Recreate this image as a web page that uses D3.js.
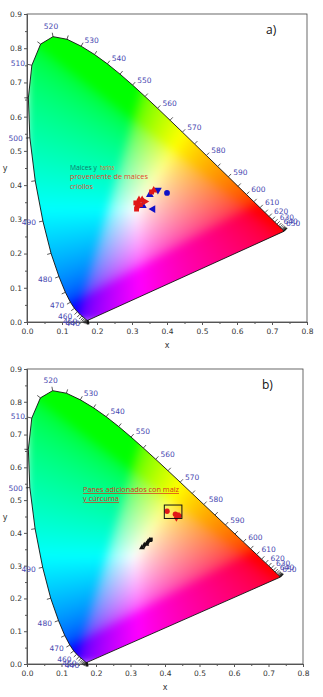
<!DOCTYPE html>
<html>
<head>
<meta charset="utf-8">
<script src="https://cdn.jsdelivr.net/npm/d3@7"></script>
<style>
  body{ margin:0; background:#fff; }
  svg{ display:block; }
  text{ font-family:"DejaVu Sans", Verdana, sans-serif; }
</style>
</head>
<body>
<div id="chart"></div>
<script>
// CIE 1931 2 deg spectral locus, 5 nm steps.
const locus_nm = [380,385,390,395,400,405,410,415,420,425,430,435,440,445,450,455,460,465,470,475,480,485,490,495,500,505,510,515,520,525,530,535,540,545,550,555,560,565,570,575,580,585,590,595,600,605,610,615,620,625,630,635,640,645,650,655,660,665,670,675,680,685,690,695,700];
const locus_x = [0.1741,0.1740,0.1738,0.1736,0.1733,0.1730,0.1726,0.1721,0.1714,0.1703,0.1689,0.1669,0.1644,0.1611,0.1566,0.1510,0.1440,0.1355,0.1241,0.1096,0.0913,0.0687,0.0454,0.0235,0.0082,0.0039,0.0139,0.0389,0.0743,0.1142,0.1547,0.1929,0.2296,0.2658,0.3016,0.3373,0.3731,0.4087,0.4441,0.4788,0.5125,0.5448,0.5752,0.6029,0.6270,0.6482,0.6658,0.6801,0.6915,0.7006,0.7079,0.7140,0.7190,0.7230,0.7260,0.7283,0.7300,0.7311,0.7320,0.7327,0.7334,0.7340,0.7344,0.7346,0.7347];
const locus_y = [0.0050,0.0050,0.0049,0.0049,0.0048,0.0048,0.0048,0.0048,0.0051,0.0058,0.0069,0.0086,0.0109,0.0138,0.0177,0.0227,0.0297,0.0399,0.0578,0.0868,0.1327,0.2007,0.2950,0.4127,0.5384,0.6548,0.7502,0.8120,0.8338,0.8262,0.8059,0.7816,0.7543,0.7243,0.6923,0.6589,0.6245,0.5896,0.5547,0.5202,0.4866,0.4544,0.4242,0.3965,0.3725,0.3514,0.3340,0.3197,0.3083,0.2993,0.2920,0.2859,0.2809,0.2770,0.2740,0.2717,0.2700,0.2689,0.2680,0.2673,0.2666,0.2660,0.2656,0.2654,0.2653];
// Wavelengths that get a text label.
const label_nm = [440,450,460,470,480,490,500,510,520,530,540,550,560,570,580,590,600,610,620,630,640,650];

// Axis ticks.
const x_ticks = [0,0.1,0.2,0.3,0.4,0.5,0.6,0.7,0.8];
const x_tick_labels = ['0.0','0.1','0.2','0.3','0.4','0.5','0.6','0.7','0.8'];
const y_ticks = [0,0.1,0.2,0.3,0.4,0.5,0.6,0.7,0.8,0.9];
const y_tick_labels = ['0.0','0.1','0.2','0.3','0.4','0.5','0.6','0.7','0.8','0.9'];

// Panel a) samples: maices (blue) and harina (red).
const a_maices_x = [0.400,0.374,0.351,0.360,0.331];
const a_maices_y = [0.377,0.386,0.372,0.330,0.340];
const a_maices_shape = ['circle','tri_down','tri_up','tri_left','tri_up'];
const a_harina_x = [0.356,0.362,0.311,0.316,0.320,0.329,0.337,0.313,0.324];
const a_harina_y = [0.380,0.385,0.348,0.338,0.356,0.357,0.352,0.330,0.343];
const a_harina_shape = ['square','tri_up','square','circle','diamond','tri_up','tri_right','square','square'];

// Panel b) samples: panes with maiz y curcuma (red) and reference (black).
const b_red_x = [0.406,0.430,0.436,0.441,0.433];
const b_red_y = [0.466,0.457,0.455,0.452,0.447];
const b_red_shape = ['circle','circle','square','circle','diamond'];
const b_black_x = [0.333,0.340,0.346,0.351,0.355,0.359];
const b_black_y = [0.355,0.362,0.366,0.373,0.377,0.380];
const b_black_shape = ['tri_up','diamond','tri_up','diamond','tri_up','square'];
const b_box_x = [0.398,0.449];
const b_box_y = [0.444,0.485];

const CIE_DEFAULTS = {
  left: 27, top: 14, right: 307, bottom: 322,
  label_color: '#4747b0',
  axis_color: '#555'
};

const SHAPES = {
  circle: [d3.symbolCircle, 0],
  square: [d3.symbolSquare, 0],
  diamond: [d3.symbolDiamond, 0],
  tri_up: [d3.symbolTriangle, 0],
  tri_down: [d3.symbolTriangle, 180],
  tri_left: [d3.symbolTriangle, -90],
  tri_right: [d3.symbolTriangle, 90]
};

// xy chromaticity to a displayable sRGB colour, brightest possible.
function xy_to_rgb( x, y ){
  var X = x / y, Y = 1, Z = ( 1 - x - y ) / y;
  var r =  3.2406*X - 1.5372*Y - 0.4986*Z;
  var g = -0.9689*X + 1.8758*Y + 0.0415*Z;
  var b =  0.0557*X - 0.2040*Y + 1.0570*Z;
  r = Math.max( r, 0 ); g = Math.max( g, 0 ); b = Math.max( b, 0 );
  var m = Math.max( r, g, b );
  function gam( c ){ c = Math.pow( c / m, 0.88 ); return c <= 0.0031308 ? 12.92*c : 1.055*Math.pow( c, 1/2.4 ) - 0.055; }
  return [ gam(r)*255, gam(g)*255, gam(b)*255 ];
}

class CieChart{

  constructor( svg, id, options ){
    this.svg = svg;
    this.id = id;
    this.settings = Object.assign( {}, CIE_DEFAULTS, options );
    var s = this.settings;
    this.x_scale = d3.scaleLinear().domain( [0, 0.8] ).range( [s.left, s.right] );
    this.y_scale = d3.scaleLinear().domain( [0, 0.9] ).range( [s.bottom, s.top] );
    this.g = svg.append( 'g' );
    this.render_fill();
    this.render_axes();
    this.render_locus();
  }

  locus_points(){
    var _this = this;
    return locus_nm.map( function( nm, i ){
      return [ _this.x_scale( locus_x[i] ), _this.y_scale( locus_y[i] ) ];
    } );
  }

  render_fill(){
    var s = this.settings;
    var w = Math.round( s.right - s.left ), h = Math.round( s.bottom - s.top );
    var raw = document.createElement( 'canvas' );
    raw.width = w; raw.height = h;
    var ctx = raw.getContext( '2d' );
    var img = ctx.createImageData( w, h );
    for( var j = 0; j < h; j++ ){
      for( var i = 0; i < w; i++ ){
        var cx = this.x_scale.invert( s.left + i + 0.5 );
        var cy = Math.max( this.y_scale.invert( s.top + j + 0.5 ), 0.004 );
        var k = ( j*w + i ) * 4;
        var c = xy_to_rgb( cx, cy );
        img.data[k] = c[0]; img.data[k+1] = c[1]; img.data[k+2] = c[2]; img.data[k+3] = 255;
      }
    }
    ctx.putImageData( img, 0, 0 );

    // Soften the kinks where a channel is clipped.
    var canvas = document.createElement( 'canvas' );
    canvas.width = w; canvas.height = h;
    var ctx2 = canvas.getContext( '2d' );
    ctx2.filter = 'blur(4px)';
    ctx2.drawImage( raw, 0, 0 );

    var pts = this.locus_points();
    this.g.append( 'clipPath' )
      .attr( 'id', 'clip_' + this.id )
      .append( 'path' )
        .attr( 'd', d3.line()( pts ) + 'Z' );
    this.g.append( 'image' )
      .attr( 'x', s.left ).attr( 'y', s.top )
      .attr( 'width', w ).attr( 'height', h )
      .attr( 'href', canvas.toDataURL() )
      .attr( 'clip-path', 'url(#clip_' + this.id + ')' );
    this.g.append( 'path' )
      .attr( 'd', d3.line()( pts ) + 'Z' )
      .attr( 'fill', 'none' )
      .attr( 'stroke', '#111' )
      .attr( 'stroke-width', 0.9 );
  }

  render_axes(){
    var s = this.settings;
    // Frame.
    this.g.append( 'rect' )
      .attr( 'x', s.left ).attr( 'y', s.top )
      .attr( 'width', s.right - s.left ).attr( 'height', s.bottom - s.top )
      .attr( 'fill', 'none' ).attr( 'stroke', '#444' ).attr( 'stroke-width', 0.8 );

    // Minor ticks.
    this.g.append( 'g' )
      .attr( 'transform', 'translate(0,' + s.bottom + ')' )
      .call( d3.axisBottom( this.x_scale ).tickValues( d3.range( 0.05, 0.8, 0.1 ) ).tickSize( 2 ).tickFormat( '' ) )
      .call( g => g.select( '.domain' ).remove() )
      .selectAll( 'line' ).attr( 'stroke', s.axis_color );
    this.g.append( 'g' )
      .attr( 'transform', 'translate(' + s.left + ',0)' )
      .call( d3.axisLeft( this.y_scale ).tickValues( d3.range( 0.05, 0.9, 0.1 ) ).tickSize( 2 ).tickFormat( '' ) )
      .call( g => g.select( '.domain' ).remove() )
      .selectAll( 'line' ).attr( 'stroke', s.axis_color );

    var xa = this.g.append( 'g' )
      .attr( 'transform', 'translate(0,' + s.bottom + ')' )
      .call( d3.axisBottom( this.x_scale ).tickValues( x_ticks ).tickSize( 3 ).tickPadding( 4 )
        .tickFormat( function( d, i ){ return x_tick_labels[i]; } ) );
    var ya = this.g.append( 'g' )
      .attr( 'transform', 'translate(' + s.left + ',0)' )
      .call( d3.axisLeft( this.y_scale ).tickValues( y_ticks ).tickSize( 3 ).tickPadding( 2 )
        .tickFormat( function( d, i ){ return y_tick_labels[i]; } ) );
    [ xa, ya ].forEach( function( a ){
      a.selectAll( 'path, line' ).attr( 'stroke', s.axis_color );
      a.selectAll( 'text' ).attr( 'fill', '#333' ).style( 'font-size', '7.5px' ).style( 'font-family', '"DejaVu Sans", sans-serif' );
    } );

    this.g.append( 'text' )
      .attr( 'x', ( s.left + s.right ) / 2 ).attr( 'y', s.bottom + 26 )
      .attr( 'text-anchor', 'middle' ).attr( 'fill', '#333' )
      .style( 'font-size', '8px' ).text( 'x' );
    this.g.append( 'text' )
      .attr( 'x', 5 ).attr( 'y', this.y_scale( 0.45 ) + 3 )
      .attr( 'text-anchor', 'middle' ).attr( 'fill', '#333' )
      .style( 'font-size', '8px' ).text( 'y' );
    this.g.append( 'text' )
      .attr( 'x', s.panel_label_x ).attr( 'y', s.top + 20 )
      .attr( 'fill', '#111' )
      .style( 'font-size', '12px' ).style( 'font-family', '"Open Sans", sans-serif' )
      .text( s.panel_label );
  }

  render_locus(){
    var s = this.settings;
    var pts = this.locus_points();
    var cx = this.x_scale( 0.33 ), cy = this.y_scale( 0.33 );
    var normals = pts.map( function( p, i ){
      var a = pts[ Math.max( i - 1, 0 ) ], b = pts[ Math.min( i + 1, pts.length - 1 ) ];
      var tx = b[0] - a[0], ty = b[1] - a[1];
      var len = Math.hypot( tx, ty ) || 1;
      var nx = ty / len, ny = -tx / len;
      if( nx * ( p[0] - cx ) + ny * ( p[1] - cy ) < 0 ){ nx = -nx; ny = -ny; }
      return [ nx, ny ];
    } );

    this.g.append( 'g' )
      .selectAll( 'line' )
      .data( pts )
      .enter().append( 'line' )
        .attr( 'x1', function( p ){ return p[0]; } )
        .attr( 'y1', function( p ){ return p[1]; } )
        .attr( 'x2', function( p, i ){ return p[0] + normals[i][0]*4; } )
        .attr( 'y2', function( p, i ){ return p[1] + normals[i][1]*4; } )
        .attr( 'stroke', '#111' ).attr( 'stroke-width', 0.7 );

    this.g.append( 'g' )
      .selectAll( 'text' )
      .data( label_nm )
      .enter().append( 'text' )
        .each( function( nm ){
          var i = locus_nm.indexOf( nm );
          var p = pts[i], n = normals[i];
          var anchor = n[0] > 0.35 ? 'start' : ( n[0] < -0.35 ? 'end' : 'middle' );
          var off = anchor == 'middle' ? 11 : 7;
          d3.select( this )
            .attr( 'x', p[0] + n[0]*off )
            .attr( 'y', p[1] + n[1]*off + 2.7 )
            .attr( 'text-anchor', anchor );
        } )
        .attr( 'fill', s.label_color )
        .style( 'font-size', '7.5px' )
        .text( function( nm ){ return nm; } );
  }

  render_points( xs, ys, shapes, color, size ){
    var _this = this;
    this.g.append( 'g' )
      .selectAll( 'path' )
      .data( xs.map( function( x, i ){ return { x: x, y: ys[i], shape: shapes[i] }; } ) )
      .enter().append( 'path' )
        .attr( 'd', function( d ){ return d3.symbol().type( SHAPES[ d.shape ][0] ).size( size )(); } )
        .attr( 'transform', function( d ){
          return 'translate(' + _this.x_scale( d.x ) + ',' + _this.y_scale( d.y ) + ') rotate(' + SHAPES[ d.shape ][1] + ')';
        } )
        .attr( 'fill', color );
  }

  render_box( xs, ys ){
    this.g.append( 'rect' )
      .attr( 'x', this.x_scale( xs[0] ) ).attr( 'y', this.y_scale( ys[1] ) )
      .attr( 'width', this.x_scale( xs[1] ) - this.x_scale( xs[0] ) )
      .attr( 'height', this.y_scale( ys[0] ) - this.y_scale( ys[1] ) )
      .attr( 'fill', 'none' ).attr( 'stroke', '#111' ).attr( 'stroke-width', 1 );
  }

  // Annotation line with a fixed width, as in the original figure.
  note( txt, x, y, width, color, underline ){
    this.g.append( 'text' )
      .attr( 'x', x ).attr( 'y', y )
      .attr( 'textLength', width ).attr( 'lengthAdjust', 'spacingAndGlyphs' )
      .attr( 'fill', color )
      .style( 'font-size', '7px' ).style( 'font-family', '"Open Sans", sans-serif' )
      .style( 'text-decoration', underline ? 'underline' : 'none' )
      .text( txt );
  }
}

var svg = d3.select( '#chart' ).append( 'svg' ).attr( 'width', 323 ).attr( 'height', 697 );

var chart_a = new CieChart( svg, 'a', { left: 27, top: 14, right: 307, bottom: 322, panel_label: 'a)', panel_label_x: 266 } );
chart_a.render_points( a_maices_x, a_maices_y, a_maices_shape, '#1010c8', 26 );
chart_a.render_points( a_harina_x, a_harina_y, a_harina_shape, '#e01818', 24 );
chart_a.note( 'Maices y', 70, 169.5, 27, '#137a66' );
chart_a.note( 'harina', 100, 169.5, 14, '#f0622a' );
chart_a.note( 'proveniente de  maices', 70, 179, 78, '#e6452a' );
chart_a.note( 'criollos', 70, 188.5, 23, '#e6452a' );

var chart_b = new CieChart( svg, 'b', { left: 27, top: 369, right: 303, bottom: 664, panel_label: 'b)', panel_label_x: 262 } );
chart_b.render_points( b_black_x, b_black_y, b_black_shape, '#111', 14 );
chart_b.render_points( b_red_x, b_red_y, b_red_shape, '#e01818', 22 );
chart_b.render_box( b_box_x, b_box_y );
chart_b.note( 'Panes adicionados con maiz', 83, 492, 96, '#d8301c', true );
chart_b.note( 'y cúrcuma', 83, 501, 36, '#d8301c', true );
</script>
</body>
</html>
